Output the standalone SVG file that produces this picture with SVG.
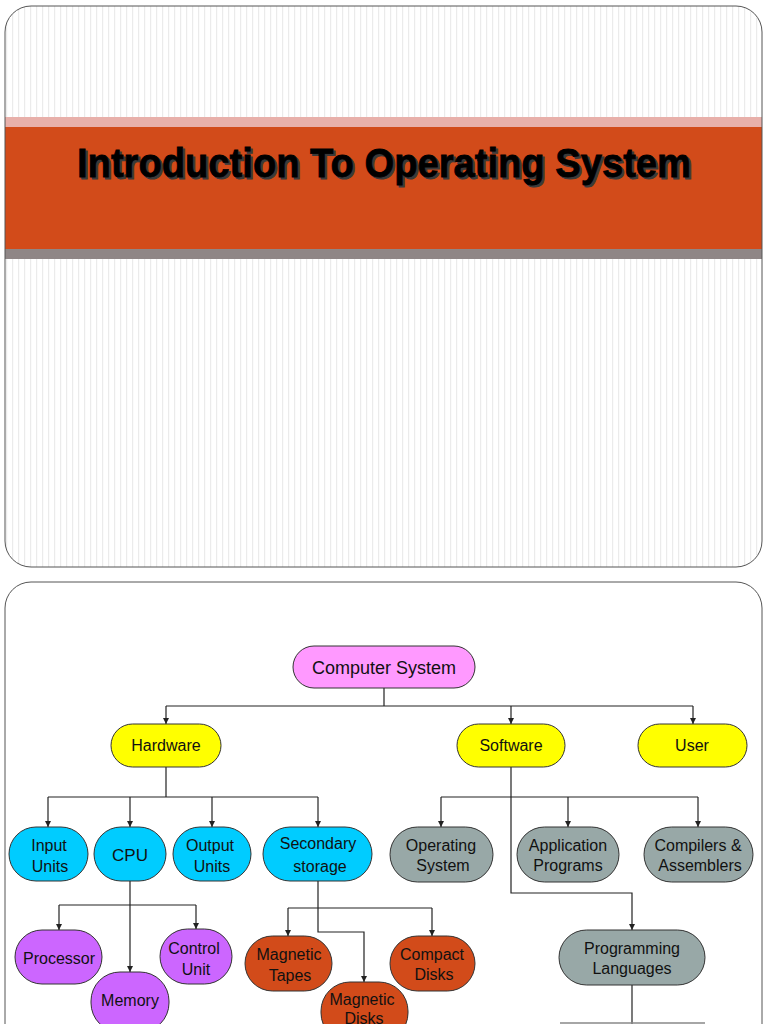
<svg xmlns="http://www.w3.org/2000/svg" width="768" height="1024" viewBox="0 0 768 1024">
<style>
.lbl{font-family:"Liberation Sans",Arial,sans-serif;font-size:16px;fill:#111;text-anchor:middle}
.node{stroke:#333;stroke-width:1}
.pink{fill:#ff99ff}.yel{fill:#ffff00}.cyan{fill:#00ccff}.gray{fill:#98a8a7}.purp{fill:#cc66ff}.orng{fill:#d24b1a}
.conn{fill:none;stroke:#222;stroke-width:1.2}
.title{font-family:"Liberation Sans",Arial,sans-serif;font-weight:bold;font-size:41px;text-anchor:middle}
</style>
<defs>
<pattern id="stripes" width="6" height="10" patternUnits="userSpaceOnUse">
<rect width="6" height="10" fill="#fff"/>
<rect x="0" width="1.2" height="10" fill="#ebebeb"/>
</pattern>
<marker id="arr" viewBox="0 0 10 10" refX="10" refY="5" markerWidth="6" markerHeight="6" orient="auto" markerUnits="userSpaceOnUse">
<path d="M0,0 L10,5 L0,10 z" fill="#222"/>
</marker>
<clipPath id="s1"><rect x="5" y="6" width="757" height="561" rx="26"/></clipPath>
</defs>
<rect width="768" height="1024" fill="#fff"/>
<g id="slide1">
<rect x="5" y="6" width="757" height="561" rx="26" fill="url(#stripes)"/>
<g clip-path="url(#s1)">
<rect x="0" y="117" width="768" height="10" fill="#e8b0aa"/>
<rect x="0" y="127" width="768" height="122" fill="#d24b1a"/>
<rect x="0" y="249" width="768" height="10" fill="#8f8686"/>
</g>
<rect x="5" y="6" width="757" height="561" rx="26" fill="none" stroke="#555" stroke-width="1"/>
<text class="title" x="386" y="179" fill="#3a3a3a" stroke="#3a3a3a" stroke-width="1" textLength="614" lengthAdjust="spacingAndGlyphs">Introduction To Operating System</text>
<text class="title" x="384" y="177" fill="#000" stroke="#000" stroke-width="0.8" textLength="614" lengthAdjust="spacingAndGlyphs">Introduction To Operating System</text>
</g>
<g id="slide2">
<rect x="5" y="582" width="757" height="480" rx="26" fill="#fff" stroke="#555" stroke-width="1"/>
</g>
<g id="connectors">
<path class="conn" d="M384,688 V706 M166,706 H693"/>
<path class="conn" d="M166,706 V724" marker-end="url(#arr)"/>
<path class="conn" d="M511,706 V724" marker-end="url(#arr)"/>
<path class="conn" d="M693,706 V724" marker-end="url(#arr)"/>
<path class="conn" d="M166,767 V797 M48,797 H318"/>
<path class="conn" d="M48,797 V827" marker-end="url(#arr)"/>
<path class="conn" d="M130,797 V827" marker-end="url(#arr)"/>
<path class="conn" d="M212,797 V827" marker-end="url(#arr)"/>
<path class="conn" d="M318,797 V827" marker-end="url(#arr)"/>
<path class="conn" d="M511,767 V797 M441,797 H698"/>
<path class="conn" d="M441,797 V827" marker-end="url(#arr)"/>
<path class="conn" d="M568,797 V827" marker-end="url(#arr)"/>
<path class="conn" d="M698,797 V827" marker-end="url(#arr)"/>
<path class="conn" d="M511,797 V893 H632 V930" marker-end="url(#arr)"/>
<path class="conn" d="M632,985 V1024"/>
<path d="M560,1023 H705" stroke="#888" stroke-width="1.5"/>
<path class="conn" d="M130,881 V905 M59,905 H196"/>
<path class="conn" d="M59,905 V930" marker-end="url(#arr)"/>
<path class="conn" d="M196,905 V929" marker-end="url(#arr)"/>
<path class="conn" d="M130,905 V972" marker-end="url(#arr)"/>
<path class="conn" d="M318,881 V908 M288,908 H432"/>
<path class="conn" d="M288,908 V936" marker-end="url(#arr)"/>
<path class="conn" d="M432,908 V936" marker-end="url(#arr)"/>
<path class="conn" d="M318,908 V932 H364 V982" marker-end="url(#arr)"/>
</g>
<g id="n-computer-system"><rect class="node pink" x="293" y="646" width="182" height="42" rx="21"/><text class="lbl" x="384" y="674" style="font-size:18px">Computer System</text></g>
<g id="n-hardware"><rect class="node yel" x="111" y="724" width="110" height="43" rx="21.5"/><text class="lbl" x="166" y="751">Hardware</text></g>
<g id="n-software"><rect class="node yel" x="457" y="724" width="108" height="43" rx="21.5"/><text class="lbl" x="511" y="751">Software</text></g>
<g id="n-user"><rect class="node yel" x="638" y="724" width="109" height="43" rx="21.5"/><text class="lbl" x="692" y="751">User</text></g>
<g id="n-input"><rect class="node cyan" x="9" y="827" width="79" height="54" rx="27"/><text class="lbl" x="49" y="851">Input</text><text class="lbl" x="50" y="872">Units</text></g>
<g id="n-cpu"><rect class="node cyan" x="94" y="827" width="72" height="54" rx="27"/><text class="lbl" x="130" y="861" style="font-size:17px">CPU</text></g>
<g id="n-output"><rect class="node cyan" x="173" y="827" width="78" height="54" rx="27"/><text class="lbl" x="210" y="851">Output</text><text class="lbl" x="212" y="872">Units</text></g>
<g id="n-secondary"><rect class="node cyan" x="263" y="827" width="109" height="54" rx="27"/><text class="lbl" x="318" y="849">Secondary</text><text class="lbl" x="320" y="872">storage</text></g>
<g id="n-os"><rect class="node gray" x="390" y="827" width="103" height="55" rx="27.5"/><text class="lbl" x="441" y="851">Operating</text><text class="lbl" x="443" y="871">System</text></g>
<g id="n-app"><rect class="node gray" x="517" y="827" width="102" height="55" rx="27.5"/><text class="lbl" x="568" y="851">Application</text><text class="lbl" x="568" y="871">Programs</text></g>
<g id="n-comp"><rect class="node gray" x="644" y="827" width="109" height="55" rx="27.5"/><text class="lbl" x="698" y="851">Compilers &amp;</text><text class="lbl" x="700" y="871">Assemblers</text></g>
<g id="n-proglang"><rect class="node gray" x="559" y="930" width="146" height="55" rx="27.5"/><text class="lbl" x="632" y="954">Programming</text><text class="lbl" x="632" y="974">Languages</text></g>
<g id="n-processor"><rect class="node purp" x="15" y="930" width="87" height="54" rx="27"/><text class="lbl" x="59" y="964">Processor</text></g>
<g id="n-memory"><rect class="node purp" x="91" y="972" width="78" height="60" rx="29"/><text class="lbl" x="130" y="1006">Memory</text></g>
<g id="n-control"><rect class="node purp" x="160" y="929" width="72" height="55" rx="27.5"/><text class="lbl" x="194" y="954">Control</text><text class="lbl" x="196" y="975">Unit</text></g>
<g id="n-tapes"><rect class="node orng" x="245" y="936" width="87" height="55" rx="27.5"/><text class="lbl" x="289" y="960">Magnetic</text><text class="lbl" x="290" y="981">Tapes</text></g>
<g id="n-disks"><rect class="node orng" x="321" y="982" width="87" height="60" rx="29"/><text class="lbl" x="362" y="1005">Magnetic</text><text class="lbl" x="364" y="1024">Disks</text></g>
<g id="n-compact"><rect class="node orng" x="390" y="936" width="85" height="55" rx="27.5"/><text class="lbl" x="432" y="960">Compact</text><text class="lbl" x="434" y="980">Disks</text></g>
</svg>
